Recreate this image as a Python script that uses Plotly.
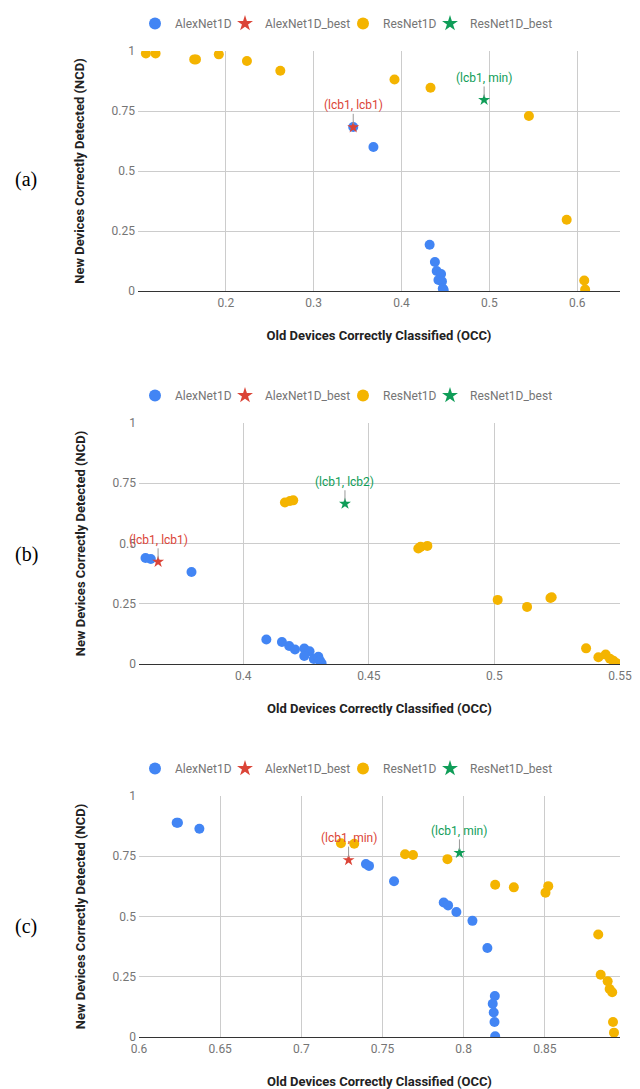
import plotly.graph_objects as go

# ---------------- data ----------------
series_names = ["AlexNet1D", "AlexNet1D_best", "ResNet1D", "ResNet1D_best"]
panel_labels = ["(a)", "(b)", "(c)"]
x_title = "Old Devices Correctly Classified (OCC)"
y_title = "New Devices Correctly Detected (NCD)"

# panel (a)
a_alex_x = [0.345, 0.368, 0.432, 0.438, 0.440, 0.445, 0.442, 0.446, 0.447, 0.448]
a_alex_y = [0.683, 0.600, 0.193, 0.121, 0.083, 0.071, 0.046, 0.040, 0.010, 0.004]
a_alex_best_x = [0.345]
a_alex_best_y = [0.682]
a_alex_best_label = "(lcb1, lcb1)"
a_res_x = [0.109, 0.120, 0.164, 0.166, 0.192, 0.224, 0.262, 0.392, 0.433, 0.545, 0.588, 0.608, 0.609]
a_res_y = [0.990, 0.990, 0.965, 0.965, 0.986, 0.958, 0.918, 0.881, 0.847, 0.729, 0.297, 0.044, 0.006]
a_res_best_x = [0.494]
a_res_best_y = [0.796]
a_res_best_label = "(lcb1, min)"
a_xrange = [0.1, 0.6487]
a_xticks = [0.2, 0.3, 0.4, 0.5, 0.6]
a_xticktext = ["0.2", "0.3", "0.4", "0.5", "0.6"]

# panel (b)
b_alex_x = [0.3611, 0.3632, 0.3794, 0.4092, 0.4154, 0.4183, 0.4206, 0.4243, 0.4264, 0.4243, 0.4281, 0.4299, 0.4305, 0.4312]
b_alex_y = [0.440, 0.436, 0.382, 0.102, 0.091, 0.075, 0.060, 0.064, 0.053, 0.033, 0.021, 0.030, 0.014, 0.003]
b_alex_best_x = [0.3661]
b_alex_best_y = [0.424]
b_alex_best_label = "(lcb1, lcb1)"
b_res_x = [0.4166, 0.4186, 0.4199, 0.4697, 0.4706, 0.4733, 0.5013, 0.5130, 0.5223, 0.5228, 0.5365, 0.5414, 0.5443, 0.5460, 0.5473, 0.5487]
b_res_y = [0.670, 0.676, 0.679, 0.479, 0.486, 0.490, 0.266, 0.237, 0.274, 0.277, 0.065, 0.028, 0.039, 0.022, 0.014, 0.003]
b_res_best_x = [0.4405]
b_res_best_y = [0.665]
b_res_best_label = "(lcb1, lcb2)"
b_xrange = [0.3585, 0.55]
b_xticks = [0.4, 0.45, 0.5, 0.55]
b_xticktext = ["0.4", "0.45", "0.5", "0.55"]

# panel (c)
c_alex_x = [0.6232, 0.6240, 0.6372, 0.7398, 0.7417, 0.7571, 0.7877, 0.7904, 0.7955, 0.8054, 0.8146, 0.8192, 0.8179, 0.8185, 0.8190, 0.8194]
c_alex_y = [0.889, 0.889, 0.864, 0.718, 0.710, 0.646, 0.558, 0.546, 0.519, 0.482, 0.369, 0.170, 0.138, 0.102, 0.062, 0.003]
c_alex_best_x = [0.7291]
c_alex_best_y = [0.734]
c_alex_best_label = "(lcb1, min)"
c_res_x = [0.7244, 0.7326, 0.7639, 0.7688, 0.7900, 0.8194, 0.8309, 0.8504, 0.8521, 0.8829, 0.8844, 0.8887, 0.8899, 0.8915, 0.8920, 0.8926]
c_res_y = [0.804, 0.802, 0.758, 0.755, 0.738, 0.632, 0.621, 0.599, 0.626, 0.425, 0.258, 0.231, 0.199, 0.186, 0.062, 0.018]
c_res_best_x = [0.7974]
c_res_best_y = [0.764]
c_res_best_label = "(lcb1, min)"
c_xrange = [0.6, 0.8963]
c_xticks = [0.6, 0.65, 0.7, 0.75, 0.8, 0.85]
c_xticktext = ["0.6", "0.65", "0.7", "0.75", "0.8", "0.85"]

y_ticks = [0, 0.25, 0.5, 0.75, 1]
y_ticktext = ["0", "0.25", "0.5", "0.75", "1"]

# ---------------- style ----------------
W, H = 640, 1089
BLUE, RED, ORANGE, GREEN = "#4285F4", "#DB4437", "#F4B400", "#0F9D58"
FONT = "Roboto"
GRID = "#cccccc"
TICK_COL = "#757575"

# plot areas in pixels (left, right, top, bottom)
areas = [(130, 612, 43, 283), (131, 612, 415, 656), (131, 612, 788, 1029)]
legend_top_px = [1, 373, 746]
label_y_px = [172, 546, 918]
legend_marker_px = [148, 238, 356, 443]   # legend symbol centres (px)
LEG_SYMBOL_OFFSET = 21

panels = [
    dict(ax=a_alex_x, ay=a_alex_y, abx=a_alex_best_x, aby=a_alex_best_y, abl=a_alex_best_label,
         rx=a_res_x, ry=a_res_y, rbx=a_res_best_x, rby=a_res_best_y, rbl=a_res_best_label,
         xr=a_xrange, xt=a_xticks, xtt=a_xticktext),
    dict(ax=b_alex_x, ay=b_alex_y, abx=b_alex_best_x, aby=b_alex_best_y, abl=b_alex_best_label,
         rx=b_res_x, ry=b_res_y, rbx=b_res_best_x, rby=b_res_best_y, rbl=b_res_best_label,
         xr=b_xrange, xt=b_xticks, xtt=b_xticktext),
    dict(ax=c_alex_x, ay=c_alex_y, abx=c_alex_best_x, aby=c_alex_best_y, abl=c_alex_best_label,
         rx=c_res_x, ry=c_res_y, rbx=c_res_best_x, rby=c_res_best_y, rbl=c_res_best_label,
         xr=c_xrange, xt=c_xticks, xtt=c_xticktext),
]

fig = go.Figure()
layout = dict(
    width=W, height=H, margin=dict(l=0, r=0, t=0, b=0, autoexpand=False),
    paper_bgcolor="white", plot_bgcolor="white",
    font=dict(family=FONT, size=12, color=TICK_COL),
    hovermode=False, showlegend=True,
)
annotations = []
leg_n = 0

for i, p in enumerate(panels):
    l, r, t, b = areas[i]
    xa = "x" if i == 0 else f"x{i+1}"
    ya = "y" if i == 0 else f"y{i+1}"
    xkey = "xaxis" if i == 0 else f"xaxis{i+1}"
    ykey = "yaxis" if i == 0 else f"yaxis{i+1}"
    specs = [
        (p["ax"], p["ay"], series_names[0], BLUE, "circle", 10),
        (p["abx"], p["aby"], series_names[1], RED, "star", 9),
        (p["rx"], p["ry"], series_names[2], ORANGE, "circle", 10),
        (p["rbx"], p["rby"], series_names[3], GREEN, "star", 9),
    ]
    for j, (xs, ys, name, col, sym, sz) in enumerate(specs):
        leg_n += 1
        lkey = "legend" if leg_n == 1 else f"legend{leg_n}"
        fig.add_trace(go.Scatter(
            x=xs, y=ys, mode="markers", name=name, xaxis=xa, yaxis=ya,
            legend=lkey, showlegend=True,
            marker=dict(color=col, symbol=sym, size=sz, line=dict(width=0)),
        ))
        layout[lkey] = dict(
            orientation="h", x=(legend_marker_px[j] - LEG_SYMBOL_OFFSET) / W, xanchor="left",
            y=1 - legend_top_px[i] / H, yanchor="top", itemsizing="constant",
            font=dict(family=FONT, size=12, color=TICK_COL), bgcolor="rgba(0,0,0,0)",
            borderwidth=0, visible=True,
        )
    layout[xkey] = dict(
        domain=[l / W, r / W], range=p["xr"], anchor=ya, automargin=False,
        tickvals=p["xt"], ticktext=p["xtt"], showgrid=True, gridcolor=GRID,
        zeroline=False, showline=True, linecolor="#333333", linewidth=1,
        tickfont=dict(family=FONT, size=12, color=TICK_COL), ticklabelstandoff=1,
        title=dict(text=x_title, standoff=21,
                   font=dict(family=FONT, size=13, color="#222222", weight="bold")),
        fixedrange=True,
    )
    layout[ykey] = dict(
        domain=[1 - b / H, 1 - t / H], range=[0, 1], anchor=xa, automargin=False,
        tickvals=y_ticks, ticktext=y_ticktext, showgrid=True, gridcolor=GRID,
        zeroline=False, showline=False,
        tickfont=dict(family=FONT, size=12, color=TICK_COL), ticklabelstandoff=2,
        title=dict(text=y_title, standoff=24,
                   font=dict(family=FONT, size=13, color="#222222", weight="bold")),
        fixedrange=True,
    )
    for bx, by, lab, col in [(p["abx"], p["aby"], p["abl"], RED), (p["rbx"], p["rby"], p["rbl"], GREEN)]:
        annotations.append(dict(
            x=bx[0], y=by[0], xref=xa, yref=ya, text=lab, showarrow=True,
            arrowhead=0, arrowwidth=1, arrowcolor="#999999", ax=0, ay=-22, standoff=3,
            font=dict(family=FONT, size=12, color=col),
        ))
    annotations.append(dict(
        x=18 / W, y=1 - label_y_px[i] / H, xref="paper", yref="paper", text=panel_labels[i],
        showarrow=False, xanchor="center", yanchor="middle",
        font=dict(family="Liberation Serif", size=20, color="black"),
    ))

layout["annotations"] = annotations
fig.update_layout(**layout)
fig.write_html("out.html")
